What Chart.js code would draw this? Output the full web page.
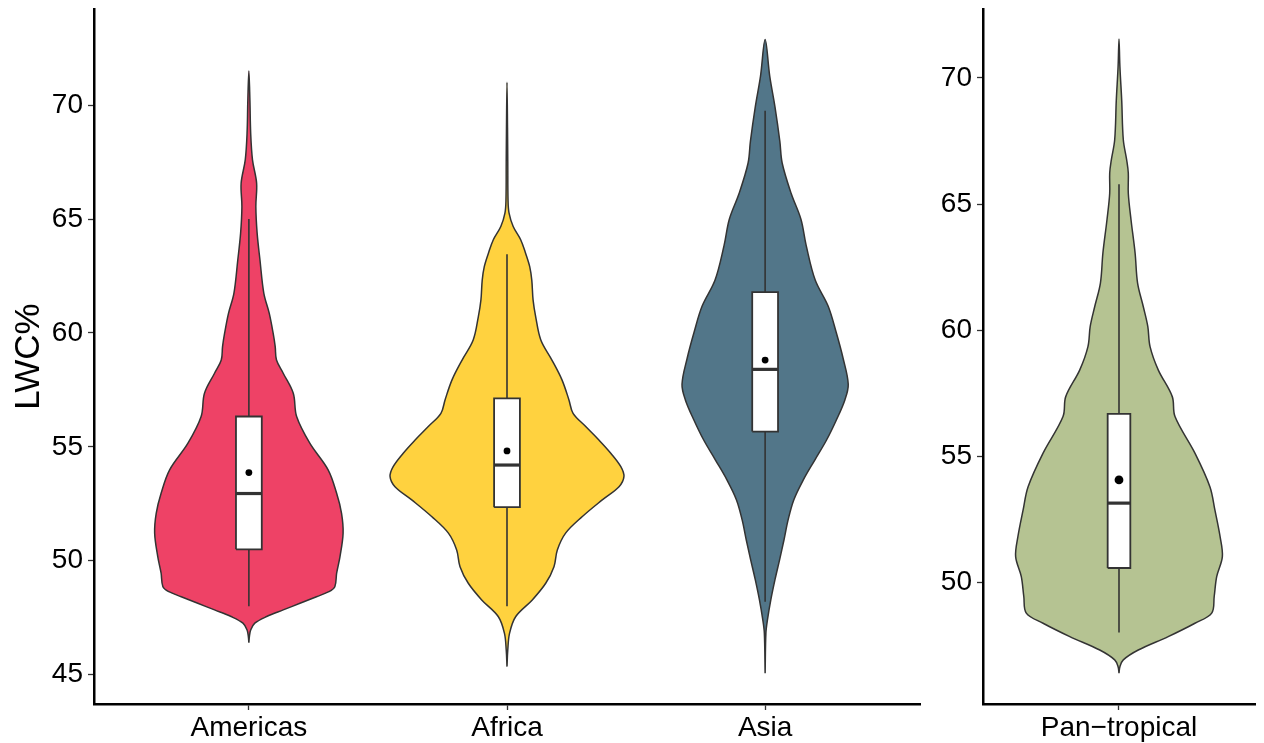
<!DOCTYPE html>
<html>
<head>
<meta charset="utf-8">
<script src="https://cdn.jsdelivr.net/npm/chart.js@4/dist/chart.umd.min.js"></script>
<style>
  html, body { margin: 0; padding: 0; background: #fff; }
  #wrap { position: relative; width: 1264px; height: 743px; }
  canvas { position: absolute; top: 0; }
  #regional { left: 0; }
  #pantropical { left: 925px; }
</style>
</head>
<body>
<div id="wrap">
  <canvas id="regional" width="925" height="743"></canvas>
  <canvas id="pantropical" width="339" height="743"></canvas>
</div>
<script>
// ---- categories and tick values ----
const regions = ['Americas', 'Africa', 'Asia'];
const pooled = ['Pan\u2212tropical'];
const regionTicks = [45, 50, 55, 60, 65, 70];
const pooledTicks = [50, 55, 60, 65, 70];

// ---- box-plot statistics of LWC% per region ----
const regionLowWhisker = [48.0, 48.0, 48.2];
const regionQ1 = [50.5, 52.35, 55.67];
const regionMedian = [52.95, 54.2, 58.4];
const regionMean = [53.87, 54.82, 58.81];
const regionQ3 = [56.33, 57.13, 61.79];
const regionHighWhisker = [65.0, 63.45, 69.75];

// ---- box-plot statistics of the pooled pan-tropical sample ----
const pooledLowWhisker = [48.02];
const pooledQ1 = [50.58];
const pooledMedian = [53.15];
const pooledMean = [54.07];
const pooledQ3 = [56.69];
const pooledHighWhisker = [65.79];

// ---- kernel density outlines: LWC% levels and half-widths ----
const americasLevels = [46.40, 46.67, 46.96, 47.26, 47.55, 47.84, 48.13, 48.42, 48.64, 48.86, 49.45, 50.18, 51.21, 52.08, 52.96, 53.99, 55.16, 56.33, 57.35, 58.23, 58.81, 59.40, 59.99, 60.86, 61.74, 63.20, 64.38, 65.55, 66.57, 67.60, 68.77, 70.22, 71.50];
const americasDensity = [0, 0.002, 0.007, 0.023, 0.069, 0.133, 0.198, 0.262, 0.310, 0.333, 0.340, 0.353, 0.365, 0.359, 0.340, 0.307, 0.236, 0.185, 0.172, 0.133, 0.107, 0.102, 0.094, 0.079, 0.058, 0.043, 0.032, 0.027, 0.030, 0.014, 0.007, 0.004, 0];

const africaLevels = [45.35, 46.08, 46.82, 47.55, 48.28, 49.01, 49.74, 50.47, 51.21, 51.94, 52.67, 53.25, 53.69, 54.13, 54.72, 55.30, 55.89, 56.47, 57.06, 57.94, 58.81, 59.69, 60.72, 61.45, 62.32, 62.91, 63.50, 64.09, 64.67, 65.26, 65.83, 67.50, 69.00, 71.00];
const africaDensity = [0, 0.003, 0.010, 0.034, 0.098, 0.150, 0.182, 0.195, 0.227, 0.292, 0.369, 0.434, 0.453, 0.441, 0.402, 0.356, 0.305, 0.256, 0.240, 0.213, 0.174, 0.131, 0.111, 0.101, 0.096, 0.088, 0.072, 0.053, 0.024, 0.008, 0.004, 0.003, 0.002, 0];

const asiaLevels = [45.06, 46.82, 47.40, 48.28, 49.16, 50.04, 50.91, 51.79, 52.67, 53.55, 54.43, 55.30, 56.18, 57.06, 57.75, 58.89, 60.04, 61.18, 62.32, 63.84, 64.98, 66.12, 67.46, 68.41, 69.93, 71.26, 72.88];
const asiaDensity = [0, 0.003, 0.009, 0.022, 0.038, 0.056, 0.073, 0.089, 0.111, 0.148, 0.193, 0.238, 0.276, 0.309, 0.322, 0.302, 0.275, 0.244, 0.194, 0.159, 0.139, 0.101, 0.066, 0.057, 0.038, 0.018, 0];

const pooledLevels = [46.41, 46.67, 46.94, 47.33, 47.86, 48.39, 48.79, 49.45, 50.24, 51.03, 51.82, 52.88, 53.80, 55.13, 56.58, 57.37, 58.43, 59.35, 60.15, 60.94, 61.87, 63.06, 64.38, 65.43, 66.23, 66.74, 67.55, 69.10, 70.45, 71.54];
const pooledDensity = [0, 0.004, 0.019, 0.085, 0.217, 0.335, 0.409, 0.420, 0.431, 0.456, 0.446, 0.423, 0.401, 0.335, 0.247, 0.235, 0.173, 0.137, 0.127, 0.107, 0.082, 0.071, 0.053, 0.041, 0.041, 0.034, 0.019, 0.012, 0.004, 0];

// ---- appearance ----
const regionFills = ['#EE4266', '#FFD23F', '#527689'];
const pooledFills = ['#B5C392'];
const outline = '#333333';
const fontFamily = "'Liberation Sans', Arial, Helvetica, sans-serif";
const boxHalf = 0.05;

// Closed outline of one violin: right edge upward, left edge back down
function violinOutline(center, levels, density) {
  const pts = levels.map((v, i) => ({ x: center + density[i], y: v }));
  for (let i = levels.length - 2; i >= 0; i--) {
    pts.push({ x: center - density[i], y: levels[i] });
  }
  return pts;
}

function buildDatasets(names, stats, profiles, fills) {
  const sets = [];
  names.forEach((name, i) => {
    const c = i + 1;
    sets.push({
      label: name + ' density',
      data: violinOutline(c, profiles[i][0], profiles[i][1]),
      showLine: true, fill: 'shape', tension: 0.35,
      backgroundColor: fills[i], borderColor: outline, borderWidth: 1.5,
      pointRadius: 0, order: 5
    });
    sets.push({
      label: name + ' upper whisker',
      data: [{ x: c, y: stats.q3[i] }, { x: c, y: stats.hi[i] }],
      showLine: true, borderColor: outline, borderWidth: 1.6, pointRadius: 0, order: 4
    });
    sets.push({
      label: name + ' lower whisker',
      data: [{ x: c, y: stats.lo[i] }, { x: c, y: stats.q1[i] }],
      showLine: true, borderColor: outline, borderWidth: 1.6, pointRadius: 0, order: 4
    });
    sets.push({
      label: name + ' box',
      data: [
        { x: c - boxHalf, y: stats.q1[i] }, { x: c + boxHalf, y: stats.q1[i] },
        { x: c + boxHalf, y: stats.q3[i] }, { x: c - boxHalf, y: stats.q3[i] },
        { x: c - boxHalf, y: stats.q1[i] }
      ],
      showLine: true, fill: 'shape', tension: 0,
      backgroundColor: '#ffffff', borderColor: outline, borderWidth: 1.8,
      borderJoinStyle: 'miter', pointRadius: 0, order: 3
    });
    sets.push({
      label: name + ' median',
      data: [{ x: c - boxHalf, y: stats.med[i] }, { x: c + boxHalf, y: stats.med[i] }],
      showLine: true, borderColor: outline, borderWidth: 3.2, pointRadius: 0, order: 2
    });
  });
  sets.push({
    label: 'mean',
    data: names.map((_, i) => ({ x: i + 1, y: stats.mean[i] })),
    showLine: false, pointRadius: stats.dot, backgroundColor: '#000', borderWidth: 0, order: 1
  });
  return sets;
}

function buildPanel(canvasId, names, stats, profiles, fills, yMin, yMax, yTicks, axisWidth, padRight, showTitle) {
  const tickFont = { family: fontFamily, size: 28 };
  return new Chart(document.getElementById(canvasId), {
    type: 'scatter',
    data: { datasets: buildDatasets(names, stats, profiles, fills) },
    options: {
      responsive: false,
      animation: false,
      events: [],
      layout: { padding: { top: 9, right: padRight, left: 0, bottom: 0 } },
      plugins: { legend: { display: false }, tooltip: { enabled: false } },
      scales: {
        x: {
          type: 'linear',
          min: 0.4,
          max: names.length + 0.6,
          afterBuildTicks: s => { s.ticks = names.map((_, i) => ({ value: i + 1 })); },
          afterFit: s => { s.height = 39; s.paddingLeft = 0; s.paddingRight = 0; },
          ticks: {
            callback: (v, i) => names[i],
            color: '#000', font: tickFont, padding: 1,
            maxRotation: 0, autoSkip: false
          },
          grid: { drawOnChartArea: false, drawTicks: true, tickLength: 6, tickColor: '#333', tickWidth: 1.3 },
          border: { display: true, color: '#000', width: 2.5 }
        },
        y: {
          type: 'linear',
          min: yMin,
          max: yMax,
          afterBuildTicks: s => { s.ticks = yTicks.map(v => ({ value: v })); },
          afterFit: s => { s.width = axisWidth; s.paddingTop = 0; s.paddingBottom = 0; },
          ticks: { color: '#000', font: tickFont, padding: 5 },
          grid: { drawOnChartArea: false, drawTicks: true, tickLength: 6, tickColor: '#333', tickWidth: 1.3 },
          border: { display: true, color: '#000', width: 2.5 },
          title: {
            display: showTitle, text: 'LWC%', color: '#000',
            font: { family: fontFamily, size: 35 },
            padding: { top: 8, bottom: 0 }
          }
        }
      }
    }
  });
}

buildPanel('regional', regions,
  { lo: regionLowWhisker, q1: regionQ1, med: regionMedian, mean: regionMean, q3: regionQ3, hi: regionHighWhisker, dot: 3.4 },
  [[americasLevels, americasDensity], [africaLevels, africaDensity], [asiaLevels, asiaDensity]],
  regionFills, 43.71, 74.22, regionTicks, 94, 5, true);

buildPanel('pantropical', pooled,
  { lo: pooledLowWhisker, q1: pooledQ1, med: pooledMedian, mean: pooledMean, q3: pooledQ3, hi: pooledHighWhisker, dot: 4.4 },
  [[pooledLevels, pooledDensity]],
  pooledFills, 45.19, 72.73, pooledTicks, 58, 9, false);
</script>
</body>
</html>
